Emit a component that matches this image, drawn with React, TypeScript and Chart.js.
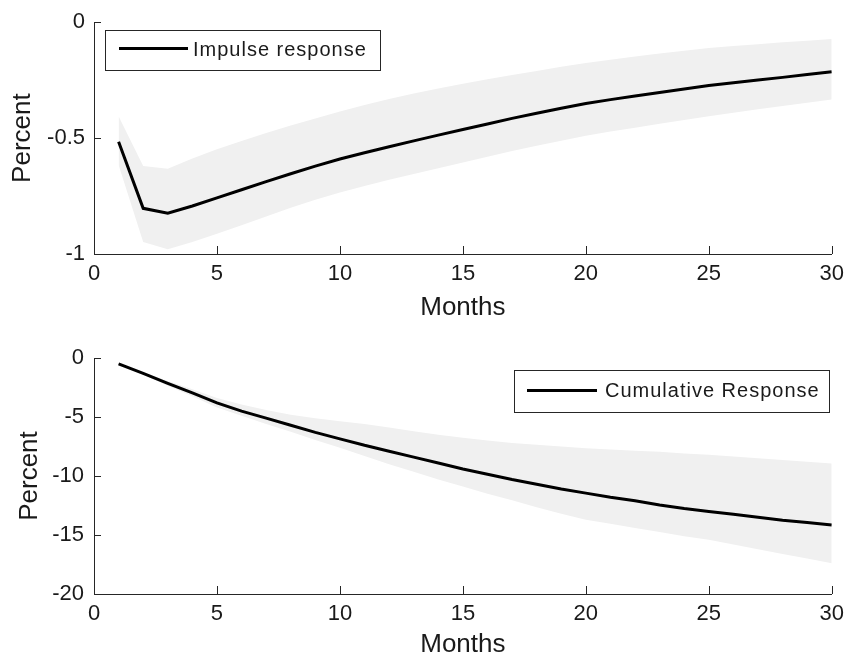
import React, { useEffect, useRef } from "react";
import { Chart, registerables } from "chart.js";

Chart.register(...registerables);

// ---------------- data ----------------
const months = [1, 2, 3, 4, 5, 6, 7, 8, 9, 10, 11, 12, 13, 14, 15, 16, 17, 18, 19, 20, 21, 22, 23, 24, 25, 26, 27, 28, 29, 30];

const impulse = [-0.516, -0.803, -0.824, -0.793, -0.758, -0.723, -0.688, -0.654, -0.621, -0.59, -0.563, -0.537, -0.512, -0.487, -0.463, -0.439, -0.415, -0.393, -0.371, -0.351, -0.334, -0.318, -0.303, -0.288, -0.273, -0.261, -0.249, -0.238, -0.226, -0.214];
const impulseUpper = [-0.406, -0.62, -0.632, -0.588, -0.548, -0.512, -0.478, -0.446, -0.415, -0.385, -0.357, -0.331, -0.308, -0.286, -0.266, -0.246, -0.228, -0.21, -0.192, -0.176, -0.162, -0.148, -0.135, -0.123, -0.111, -0.103, -0.095, -0.087, -0.08, -0.073];
const impulseLower = [-0.616, -0.948, -0.98, -0.948, -0.913, -0.876, -0.838, -0.8, -0.766, -0.735, -0.707, -0.68, -0.655, -0.63, -0.605, -0.58, -0.556, -0.533, -0.511, -0.49, -0.472, -0.455, -0.438, -0.422, -0.406, -0.391, -0.376, -0.361, -0.347, -0.333];

const cumulative = [-0.5, -1.3, -2.15, -2.95, -3.8, -4.5, -5.1, -5.7, -6.3, -6.85, -7.4, -7.9, -8.4, -8.9, -9.4, -9.85, -10.3, -10.7, -11.1, -11.45, -11.8, -12.1, -12.45, -12.75, -13.0, -13.25, -13.5, -13.75, -13.95, -14.15];
const cumulativeUpper = [-0.45, -1.2, -1.95, -2.65, -3.4, -3.95, -4.4, -4.8, -5.1, -5.35, -5.6, -5.9, -6.2, -6.5, -6.75, -7.0, -7.2, -7.35, -7.5, -7.65, -7.75, -7.85, -7.95, -8.1, -8.2, -8.35, -8.5, -8.65, -8.8, -8.95];
const cumulativeLower = [-0.55, -1.4, -2.35, -3.25, -4.2, -4.9, -5.6, -6.25, -6.95, -7.6, -8.3, -9.0, -9.65, -10.3, -10.9, -11.5, -12.05, -12.65, -13.2, -13.7, -14.05, -14.4, -14.75, -15.1, -15.4, -15.8, -16.2, -16.6, -17.0, -17.4];

const xTickStep = 5;
const xRange = [0, 30];
const topYRange = [-1, 0];
const topYStep = 0.5;
const bottomYRange = [-20, 0];
const bottomYStep = 5;

const xTitle = "Months";
const yTitle = "Percent";
const topLegend = "Impulse response";
const bottomLegend = "Cumulative Response";

// ---------------- styles ----------------
const FONT = "'Liberation Sans', Arial, Helvetica, sans-serif";
const AXIS = "#262626";
const TEXT = "#1a1a1a";
const BAND = "#f0f0f0";

const toPts = (ys: number[]) => ys.map((y, i) => ({ x: months[i], y }));

const inwardTicks = {
  id: "inwardTicks",
  afterDraw(chart: any) {
    const { ctx, chartArea } = chart;
    const xs = chart.scales.x;
    const ys = chart.scales.y;
    ctx.save();
    ctx.strokeStyle = AXIS;
    ctx.lineWidth = 1;
    ctx.beginPath();
    xs.ticks.forEach((t: any) => {
      const px = Math.round(xs.getPixelForValue(Number(t.value))) + 0.5;
      ctx.moveTo(px, chartArea.bottom);
      ctx.lineTo(px, chartArea.bottom - 8);
    });
    ys.ticks.forEach((t: any) => {
      const py = Math.round(ys.getPixelForValue(Number(t.value))) + 0.5;
      ctx.moveTo(chartArea.left, py);
      ctx.lineTo(chartArea.left + 7, py);
    });
    ctx.stroke();
    ctx.restore();
  },
};

const boxLegend = {
  id: "boxLegend",
  afterDraw(chart: any, _args: any, opts: any) {
    const { ctx } = chart;
    const ds = chart.data.datasets.find((d: any) => d.showInLegend);
    if (!ds || !opts.box) return;
    const [l, t, r, b] = opts.box;
    ctx.save();
    ctx.fillStyle = "#ffffff";
    ctx.fillRect(l, t, r - l, b - t);
    ctx.strokeStyle = AXIS;
    ctx.lineWidth = 1;
    ctx.strokeRect(l + 0.5, t + 0.5, r - l, b - t);
    ctx.strokeStyle = ds.borderColor;
    ctx.lineWidth = ds.borderWidth;
    ctx.beginPath();
    ctx.moveTo(opts.lineFrom, opts.lineY);
    ctx.lineTo(opts.lineTo, opts.lineY);
    ctx.stroke();
    ctx.fillStyle = TEXT;
    ctx.font = `20px ${FONT}`;
    try { (ctx as any).letterSpacing = "1px"; } catch (e) {}
    ctx.textBaseline = "middle";
    ctx.textAlign = "left";
    ctx.fillText(ds.label, opts.textX, opts.textY);
    ctx.restore();
  },
};

type PanelProps = {
  line: number[];
  upper: number[];
  lower: number[];
  label: string;
  yRange: number[];
  yStep: number;
  area: { top: number; bottom: number };
  yTitlePad: number;
  yTickPad: number;
  xTitlePadBottom: number;
  legend: any;
};

function Panel(props: PanelProps) {
  const ref = useRef<HTMLCanvasElement | null>(null);
  useEffect(() => {
    if (!ref.current) return;
    const H = 330;
    const chart = new Chart(ref.current, {
      type: "line",
      data: {
        datasets: [
          {
            label: "upper",
            data: toPts(props.upper),
            borderWidth: 0,
            pointRadius: 0,
            backgroundColor: BAND,
            borderColor: BAND,
            fill: "+1",
            order: 2,
          },
          {
            label: "lower",
            data: toPts(props.lower),
            borderWidth: 0,
            pointRadius: 0,
            backgroundColor: BAND,
            borderColor: BAND,
            fill: false,
            order: 2,
          },
          {
            label: props.label,
            data: toPts(props.line),
            borderWidth: 3,
            borderColor: "#000000",
            pointRadius: 0,
            fill: false,
            order: 0,
            showInLegend: true,
          } as any,
        ],
      },
      options: {
        animation: false,
        responsive: false,
        maintainAspectRatio: false,
        devicePixelRatio: 1,
        layout: { padding: { left: 0, right: 13, top: props.area.top, bottom: 0 } },
        plugins: {
          legend: { display: false },
          tooltip: { enabled: false },
          boxLegend: props.legend,
        } as any,
        scales: {
          x: {
            type: "linear",
            min: xRange[0],
            max: xRange[1],
            afterFit: (s: any) => { s.height = H - props.area.bottom; },
            grid: { display: false, drawTicks: false },
            border: { display: true, color: AXIS, width: 1 },
            ticks: {
              stepSize: xTickStep,
              color: TEXT,
              font: { family: FONT, size: 22 },
              padding: 7,
              maxRotation: 0,
              callback: (v: any) => String(Number(v)),
            },
            title: {
              display: true,
              text: xTitle,
              color: TEXT,
              font: { family: FONT, size: 26 },
              padding: { top: 0, bottom: props.xTitlePadBottom },
            },
          },
          y: {
            type: "linear",
            min: props.yRange[0],
            max: props.yRange[1],
            afterFit: (s: any) => { s.width = 94; },
            grid: { display: false, drawTicks: false },
            border: { display: true, color: AXIS, width: 1 },
            ticks: {
              stepSize: props.yStep,
              color: TEXT,
              font: { family: FONT, size: 22 },
              padding: props.yTickPad,
              callback: (v: any) => String(Number(v)),
            },
            title: {
              display: true,
              text: yTitle,
              color: TEXT,
              font: { family: FONT, size: 26 },
              padding: { top: props.yTitlePad, bottom: 0 },
            },
          },
        },
      } as any,
      plugins: [inwardTicks, boxLegend],
    });
    return () => chart.destroy();
  }, []);
  return <canvas ref={ref} width={851} height={330} style={{ display: "block", width: 851, height: 330 }} />;
}

export default function App() {
  return (
    <div style={{ position: "absolute", left: 0, top: 0, width: 851, height: 660, background: "#ffffff" }}>
      <Panel
        line={impulse}
        upper={impulseUpper}
        lower={impulseLower}
        label={topLegend}
        yRange={topYRange}
        yStep={topYStep}
        area={{ top: 17, bottom: 254 }}
        yTitlePad={7}
        yTickPad={9}
        xTitlePadBottom={7}
        legend={{ box: [105, 30, 380, 70], lineFrom: 119, lineTo: 188, lineY: 48.5, textX: 193, textY: 50 }}
      />
      <Panel
        line={cumulative}
        upper={cumulativeUpper}
        lower={cumulativeLower}
        label={bottomLegend}
        yRange={bottomYRange}
        yStep={bottomYStep}
        area={{ top: 28, bottom: 264 }}
        yTitlePad={14}
        yTickPad={10}
        xTitlePadBottom={0}
        legend={{ box: [514, 40, 829, 82], lineFrom: 527, lineTo: 597, lineY: 60.5, textX: 605, textY: 61 }}
      />
    </div>
  );
}
